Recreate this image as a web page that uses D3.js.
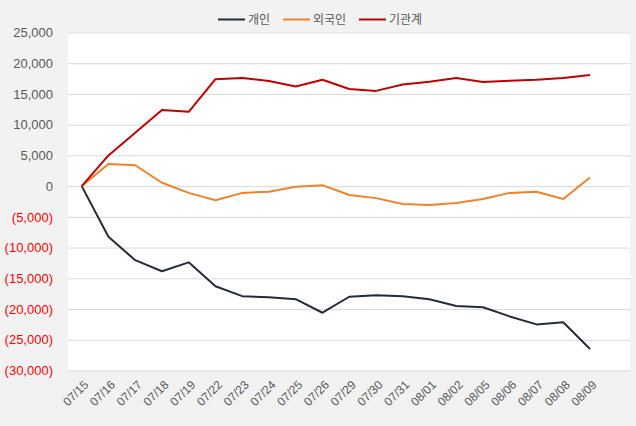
<!DOCTYPE html>
<html><head><meta charset="utf-8">
<script src="https://cdn.jsdelivr.net/npm/d3@7"></script>
<style>body{margin:0;background:#f2f2f2;}svg{display:block;font-family:Inter,"Noto Sans CJK KR",sans-serif;}</style>
</head><body><svg id="c" width="636" height="426"></svg>
<script>
const dates = ["07/15","07/16","07/17","07/18","07/19","07/22","07/23","07/24","07/25","07/26","07/29","07/30","07/31","08/01","08/02","08/05","08/06","08/07","08/08","08/09"];
const individual = [0,-8250,-12050,-13850,-12400,-16300,-17900,-18100,-18400,-20600,-18000,-17750,-17900,-18400,-19500,-19700,-21200,-22500,-22150,-26500];
const foreign = [0,3600,3400,550,-1100,-2300,-1100,-900,-100,160,-1450,-1950,-2900,-3050,-2750,-2100,-1100,-900,-2100,1400];
const institution = [0,5000,8700,12400,12100,17400,17600,17100,16200,17300,15800,15500,16550,17000,17600,16950,17150,17300,17600,18100];
const yTicks = [25000,20000,15000,10000,5000,0,-5000,-10000,-15000,-20000,-25000,-30000];
const seriesNames = ["개인","외국인","기관계"];
const colors = ["#262b38","#f0822e","#c00000"];
const seriesData = [individual, foreign, institution];

const svg = d3.select("#c");
const plot = {l:68, r:630, t:32.5, b:370.5};
const x = d3.scalePoint().domain(dates).range([81.7, 590]);
const y = d3.scaleLinear().domain([-30000,25000]).range([plot.b, plot.t]);

svg.append("rect").attr("x",plot.l).attr("y",plot.t).attr("width",plot.r-plot.l).attr("height",plot.b-plot.t).attr("fill","#ffffff");

const fmt = d3.format(",");
const yAxis = d3.axisLeft(y).tickValues(yTicks).tickSize(-(plot.r-plot.l)).tickPadding(15)
  .tickFormat(d => d < 0 ? "(" + fmt(-d) + ")" : fmt(d));
const ga = svg.append("g").attr("transform",`translate(${plot.l},0)`).call(yAxis);
ga.select(".domain").remove();
ga.selectAll(".tick line").attr("stroke","#d9d9d9").attr("stroke-width",1);
ga.selectAll(".tick text").attr("font-size",13).attr("fill",d => d < 0 ? "#ff0000" : "#595959");

const xAxis = d3.axisBottom(x).tickSize(0).tickPadding(0);
const gx = svg.append("g").attr("transform",`translate(0,${plot.b})`).call(xAxis);
gx.select(".domain").remove();
gx.selectAll(".tick text").attr("font-size",12).attr("fill","#595959")
  .attr("text-anchor","end").attr("dy","0.35em")
  .attr("transform","translate(4,12) rotate(-45)");

const line = d3.line().x((d,i)=>x(dates[i])).y(d=>y(d));
seriesData.forEach((s,k)=>{
  svg.append("path").datum(s).attr("d",line).attr("fill","none")
    .attr("stroke",colors[k]).attr("stroke-width",2).attr("stroke-linejoin","round");
});

const legendX = [218, 283, 359];
const lg = svg.append("g");
seriesNames.forEach((n,k)=>{
  lg.append("line").attr("x1",legendX[k]).attr("x2",legendX[k]+27).attr("y1",19.5).attr("y2",19.5)
    .attr("stroke",colors[k]).attr("stroke-width",2);
  lg.append("text").attr("x",legendX[k]+30).attr("y",19.5).attr("dy","0.35em")
    .attr("font-size",12).attr("fill","#595959").text(n);
});
</script></body></html>
